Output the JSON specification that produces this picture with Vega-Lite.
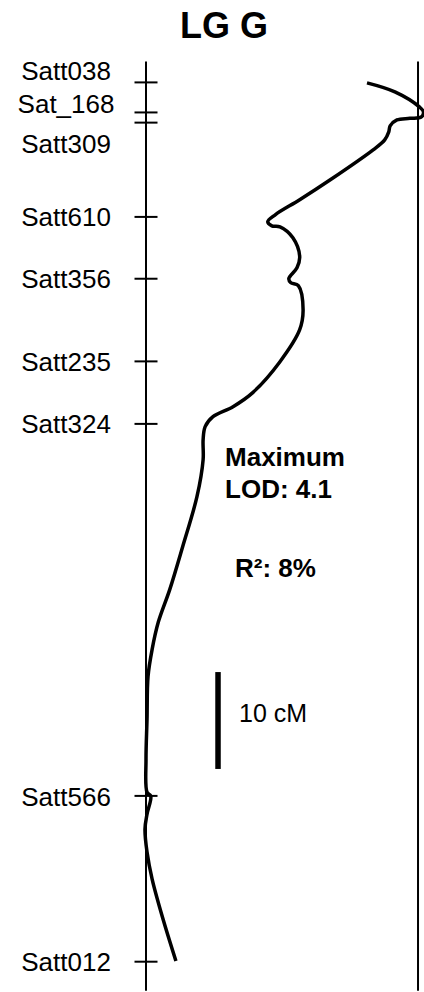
{
  "$schema": "https://vega.github.io/schema/vega-lite/v6.json",
  "width": 424,
  "height": 992,
  "autosize": {"type": "fit", "contains": "padding"},
  "padding": 0,
  "config": {"view": {"stroke": null}, "font": "Liberation Sans"},
  "datasets": {
    "markers": [
      {"marker": "Satt038", "pos": 0.05, "label_pos": -0.2},
      {"marker": "Sat_168", "pos": 3.15, "label_pos": 3.2},
      {"marker": "Satt309", "pos": 4.2, "label_pos": 7.32},
      {"marker": "Satt610", "pos": 13.93, "label_pos": 14.9},
      {"marker": "Satt356", "pos": 20.31, "label_pos": 21.29},
      {"marker": "Satt235", "pos": 28.84, "label_pos": 29.85},
      {"marker": "Satt324", "pos": 35.29, "label_pos": 36.24},
      {"marker": "Satt566", "pos": 73.68, "label_pos": 74.69},
      {"marker": "Satt012", "pos": 90.79, "label_pos": 91.8}
    ],
    "lines": [
      {"name": "linkage group", "lod": 0, "start": -2.1, "end": 93.8},
      {"name": "threshold", "lod": 4.0, "start": -2.1, "end": 93.8}
    ],
    "lod": [
      {"cM": 0.1, "lod": 3.25},
      {"cM": 1.03, "lod": 3.66},
      {"cM": 2.58, "lod": 4.02},
      {"cM": 3.09, "lod": 4.08},
      {"cM": 3.61, "lod": 4.05},
      {"cM": 3.76, "lod": 3.88},
      {"cM": 3.92, "lod": 3.69},
      {"cM": 4.54, "lod": 3.59},
      {"cM": 5.15, "lod": 3.57},
      {"cM": 5.98, "lod": 3.51},
      {"cM": 7.01, "lod": 3.34},
      {"cM": 10.1, "lod": 2.71},
      {"cM": 12.16, "lod": 2.26},
      {"cM": 13.71, "lod": 1.9},
      {"cM": 14.43, "lod": 1.79},
      {"cM": 14.85, "lod": 1.85},
      {"cM": 14.95, "lod": 1.97},
      {"cM": 16.08, "lod": 2.16},
      {"cM": 18.04, "lod": 2.26},
      {"cM": 19.18, "lod": 2.22},
      {"cM": 20.31, "lod": 2.1},
      {"cM": 20.72, "lod": 2.13},
      {"cM": 21.03, "lod": 2.24},
      {"cM": 23.51, "lod": 2.31},
      {"cM": 25.57, "lod": 2.26},
      {"cM": 28.87, "lod": 1.97},
      {"cM": 32.06, "lod": 1.57},
      {"cM": 33.51, "lod": 1.28},
      {"cM": 34.54, "lod": 0.985},
      {"cM": 35.57, "lod": 0.87},
      {"cM": 36.91, "lod": 0.84},
      {"cM": 38.97, "lod": 0.84},
      {"cM": 42.78, "lod": 0.75},
      {"cM": 47.94, "lod": 0.54},
      {"cM": 52.37, "lod": 0.35},
      {"cM": 55.77, "lod": 0.18},
      {"cM": 58.56, "lod": 0.09},
      {"cM": 61.34, "lod": 0.03},
      {"cM": 65.77, "lod": 0.015},
      {"cM": 69.9, "lod": 0.0},
      {"cM": 73.3, "lod": 0.015},
      {"cM": 73.71, "lod": 0.07},
      {"cM": 75.57, "lod": 0.015},
      {"cM": 77.11, "lod": -0.015},
      {"cM": 79.48, "lod": 0.015},
      {"cM": 82.27, "lod": 0.09},
      {"cM": 86.39, "lod": 0.25},
      {"cM": 90.72, "lod": 0.44}
    ]
  },
  "layer": [
    {
      "data": {"name": "lines"},
      "mark": {"type": "rule", "strokeWidth": 2, "color": "black"},
      "encoding": {
        "x": {"field": "lod", "type": "quantitative", "axis": null,
              "scale": {"domain": [-2.147, 4.088], "nice": false, "zero": false}},
        "y": {"field": "start", "type": "quantitative", "axis": null,
              "scale": {"domain": [-8.454, 93.814], "nice": false, "zero": false, "reverse": true}},
        "y2": {"field": "end"}
      }
    },
    {
      "data": {"name": "markers"},
      "mark": {"type": "tick", "orient": "horizontal", "size": 23, "thickness": 2, "color": "black", "opacity": 1},
      "encoding": {
        "x": {"datum": 0, "type": "quantitative", "axis": null},
        "y": {"field": "pos", "type": "quantitative", "axis": null}
      }
    },
    {
      "data": {"name": "markers"},
      "mark": {"type": "text", "fontSize": 26, "align": "center", "baseline": "alphabetic", "color": "black"},
      "encoding": {
        "x": {"datum": -1.176, "type": "quantitative", "axis": null},
        "y": {"field": "label_pos", "type": "quantitative", "axis": null},
        "text": {"field": "marker"}
      }
    },
    {
      "data": {"name": "lod"},
      "mark": {"type": "line", "strokeWidth": 3.5, "color": "black", "interpolate": "catmull-rom", "clip": true},
      "encoding": {
        "x": {"field": "lod", "type": "quantitative", "axis": null},
        "y": {"field": "cM", "type": "quantitative", "axis": null},
        "order": {"value": null}
      }
    },
    {
      "data": {"values": [{}]},
      "mark": {"type": "text", "text": "LG G", "fontSize": 36, "fontWeight": "bold", "align": "center", "baseline": "alphabetic", "color": "black"},
      "encoding": {
        "x": {"datum": 1.147, "type": "quantitative", "axis": null},
        "y": {"datum": -4.536, "type": "quantitative", "axis": null}
      }
    },
    {
      "data": {"values": [{}]},
      "mark": {"type": "text", "text": ["Maximum", "LOD: 4.1"], "lineHeight": 32, "fontSize": 26, "fontWeight": "bold", "align": "left", "baseline": "alphabetic", "color": "black"},
      "encoding": {
        "x": {"datum": 1.162, "type": "quantitative", "axis": null},
        "y": {"datum": 39.59, "type": "quantitative", "axis": null}
      }
    },
    {
      "data": {"values": [{}]},
      "mark": {"type": "text", "text": "R²: 8%", "fontSize": 26, "fontWeight": "bold", "align": "left", "baseline": "alphabetic", "color": "black"},
      "encoding": {
        "x": {"datum": 1.309, "type": "quantitative", "axis": null},
        "y": {"datum": 51.13, "type": "quantitative", "axis": null}
      }
    },
    {
      "data": {"values": [{}]},
      "mark": {"type": "text", "text": "10 cM", "fontSize": 25, "align": "left", "baseline": "alphabetic", "color": "black"},
      "encoding": {
        "x": {"datum": 1.368, "type": "quantitative", "axis": null},
        "y": {"datum": 66.08, "type": "quantitative", "axis": null}
      }
    },
    {
      "data": {"values": [{}]},
      "mark": {"type": "rule", "strokeWidth": 5.5, "color": "black"},
      "encoding": {
        "x": {"datum": 1.059, "type": "quantitative", "axis": null},
        "y": {"datum": 60.9, "type": "quantitative", "axis": null},
        "y2": {"datum": 70.9}
      }
    }
  ]
}
